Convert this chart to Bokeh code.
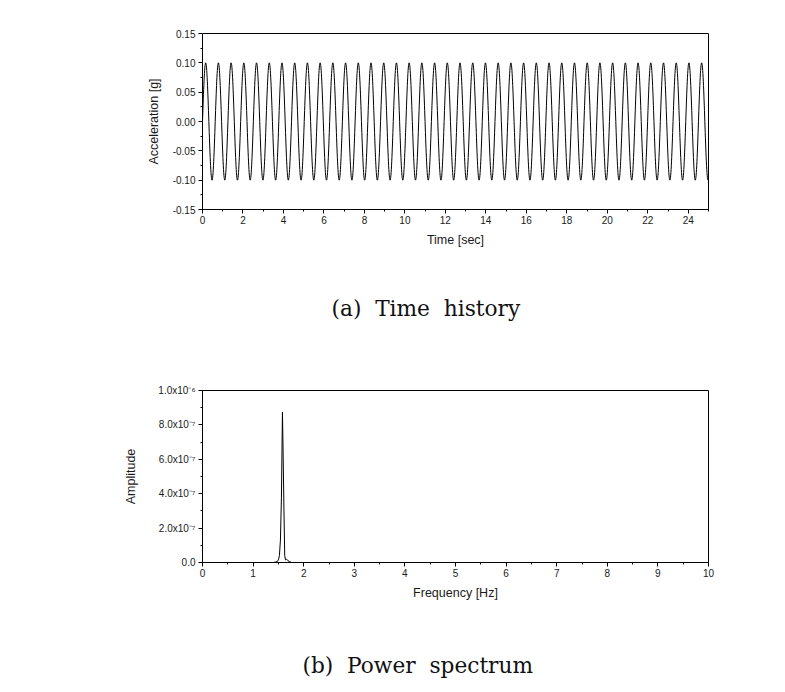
from bokeh.plotting import figure
from bokeh.models import FixedTicker, Range1d, ColumnDataSource, PrintfTickFormatter
from bokeh.layouts import column
from bokeh.embed import file_html
from bokeh.resources import INLINE

# ---------------- data: (a) time history ----------------
# times [sec] of the crests and troughs
peak_times = [0.157, 0.785, 1.414, 2.042, 2.670, 3.299, 3.927, 4.555, 5.184, 5.812,
              6.440, 7.069, 7.697, 8.325, 8.954, 9.582, 10.210, 10.838, 11.467, 12.095,
              12.723, 13.352, 13.980, 14.608, 15.237, 15.865, 16.493, 17.122, 17.750, 18.378,
              19.007, 19.635, 20.263, 20.892, 21.520, 22.148, 22.777, 23.405, 24.033, 24.662]
trough_times = [0.471, 1.100, 1.728, 2.356, 2.985, 3.613, 4.241, 4.869, 5.498, 6.126,
                6.754, 7.383, 8.011, 8.639, 9.268, 9.896, 10.524, 11.153, 11.781, 12.409,
                13.038, 13.666, 14.294, 14.923, 15.551, 16.179, 16.808, 17.436, 18.064, 18.692,
                19.321, 19.949, 20.577, 21.206, 21.834, 22.462, 23.091, 23.719, 24.347, 24.976]
peak_value = 0.10      # g
trough_value = -0.10   # g
start_time, start_value = 0.0, 0.0

time_ticks = [0, 2, 4, 6, 8, 10, 12, 14, 16, 18, 20, 22, 24]
time_minor = [1, 3, 5, 7, 9, 11, 13, 15, 17, 19, 21, 23, 25]
acc_ticks = [-0.15, -0.10, -0.05, 0.0, 0.05, 0.10, 0.15]
acc_minor = [-0.125, -0.075, -0.025, 0.025, 0.075, 0.125]

# ---------------- data: (b) power spectrum ----------------
freq = [0.0, 1.40, 1.45, 1.48, 1.50, 1.52, 1.54, 1.56, 1.58, 1.595, 1.61, 1.625,
        1.64, 1.66, 1.69, 1.72, 1.76, 10.0]
amplitude = [0.0, 0.0, 0.03e-7, 0.06e-7, 0.15e-7, 0.4e-7, 1.3e-7, 3.8e-7, 8.75e-7, 6.0e-7,
             3.0e-7, 0.4e-7, 0.15e-7, 0.2e-7, 0.1e-7, 0.05e-7, 0.0, 0.0]

freq_ticks = [0, 1, 2, 3, 4, 5, 6, 7, 8, 9, 10]
freq_minor = [0.5, 1.5, 2.5, 3.5, 4.5, 5.5, 6.5, 7.5, 8.5, 9.5]
amp_ticks = [0.0, 2e-7, 4e-7, 6e-7, 8e-7, 1e-6]
amp_minor = [1e-7, 3e-7, 5e-7, 7e-7, 9e-7]
amp_labels = ["0.0", "2.0x10\u207b\u2077", "4.0x10\u207b\u2077", "6.0x10\u207b\u2077",
              "8.0x10\u207b\u2077", "1.0x10\u207b\u2076"]

caption_a = "(a) \u00a0Time \u00a0history"
caption_b = "(b) \u00a0Power \u00a0spectrum"

SANS = "Liberation Sans"
SERIF = "DejaVu Serif"
W = 785


def style_axes(p, xticks, xminor, yticks, yminor, ylab_standoff):
    p.xgrid.visible = False
    p.ygrid.visible = False
    p.outline_line_color = "black"
    p.outline_line_width = 1
    p.outline_line_alpha = 1
    p.background_fill_color = "white"
    p.border_fill_color = "white"
    p.xaxis.ticker = FixedTicker(ticks=xticks, minor_ticks=xminor)
    p.yaxis.ticker = FixedTicker(ticks=yticks, minor_ticks=yminor)
    for ax in (p.xaxis[0], p.yaxis[0]):
        ax.axis_line_color = "black"
        ax.axis_line_width = 1
        ax.major_tick_line_color = "black"
        ax.minor_tick_line_color = "black"
        ax.major_tick_in = 0
        ax.major_tick_out = 4
        ax.minor_tick_in = 0
        ax.minor_tick_out = 2
        ax.major_label_text_font = SANS
        ax.major_label_text_font_size = "10px"
        ax.major_label_text_color = "#1a1a1a"
        ax.axis_label_text_font = SANS
        ax.axis_label_text_font_size = "12.5px"
        ax.axis_label_text_font_style = "normal"
        ax.axis_label_text_color = "#1a1a1a"
    p.xaxis.major_label_standoff = 2
    p.yaxis.major_label_standoff = 3
    p.xaxis.axis_label_standoff = 6
    p.yaxis.axis_label_standoff = ylab_standoff


def caption_fig(text, height, left, top_gap):
    c = figure(width=W, height=height, x_axis_type=None, y_axis_type=None,
               output_backend="svg", toolbar_location=None,
               min_border_left=0, min_border_right=0, min_border_top=top_gap,
               min_border_bottom=0)
    c.grid.visible = False
    c.outline_line_color = None
    c.background_fill_color = "white"
    c.border_fill_color = "white"
    c.title.text = text
    c.title.align = "left"
    c.title.offset = left
    c.title.standoff = 0
    c.title.text_font = SERIF
    c.title.text_font_size = "21.7px"
    c.title.text_font_style = "normal"
    c.title.text_color = "#111111"
    return c


# ---------------- figure (a) ----------------
pa = figure(width=W, height=260, x_range=Range1d(0, 25), y_range=Range1d(-0.15, 0.15),
            output_backend="svg", toolbar_location=None,
            min_border_left=199, min_border_right=77, min_border_top=33, min_border_bottom=51)
style_axes(pa, time_ticks, time_minor, acc_ticks, acc_minor, 9)
pa.xaxis.axis_label = "Time [sec]"
pa.yaxis.axis_label = "Acceleration [g]"
pa.yaxis.formatter = PrintfTickFormatter(format="%.2f")

# knots of the trace: start point, then crests and troughs in time order
knots = [(start_time, start_value)] + sorted(
    [(t, peak_value) for t in peak_times] + [(t, trough_value) for t in trough_times])

x0, y0, x1, y1, cx0, cy0, cx1, cy1 = [], [], [], [], [], [], [], []
for i in range(len(knots) - 1):
    ta, va = knots[i]
    tb, vb = knots[i + 1]
    h = tb - ta
    x0.append(ta); y0.append(va); x1.append(tb); y1.append(vb)
    if i == 0:
        # rising quarter wave from the zero start to the first crest
        cx0.append(ta + 0.3261 * h); cy0.append(0.5123 * vb)
        cx1.append(ta + 0.6381 * h); cy1.append(vb)
    else:
        # half wave between a crest and a trough
        cx0.append(ta + 0.3634 * h); cy0.append(va)
        cx1.append(tb - 0.3634 * h); cy1.append(vb)

src_a = ColumnDataSource(dict(x0=x0, y0=y0, x1=x1, y1=y1, cx0=cx0, cy0=cy0, cx1=cx1, cy1=cy1))
pa.bezier(x0="x0", y0="y0", x1="x1", y1="y1", cx0="cx0", cy0="cy0", cx1="cx1", cy1="cy1",
          source=src_a, line_color="black", line_width=1)

cap_a = caption_fig(caption_a, 86, 129, 60)

# ---------------- figure (b) ----------------
pb = figure(width=W, height=260, x_range=Range1d(0, 10), y_range=Range1d(0, 1e-6),
            output_backend="svg", toolbar_location=None,
            min_border_left=202, min_border_right=75, min_border_top=44, min_border_bottom=44)
style_axes(pb, freq_ticks, freq_minor, amp_ticks, amp_minor, 17)
pb.xaxis.axis_label = "Frequency [Hz]"
pb.yaxis.axis_label = "Amplitude"
pb.yaxis.major_label_overrides = {v: s for v, s in zip(amp_ticks, amp_labels)}

pb.line(freq, amplitude, line_color="black", line_width=1)

cap_b = caption_fig(caption_b, 86, 100, 71)

layout = column(pa, cap_a, pb, cap_b, spacing=0)
open("out.html", "w").write(file_html(layout, INLINE))
